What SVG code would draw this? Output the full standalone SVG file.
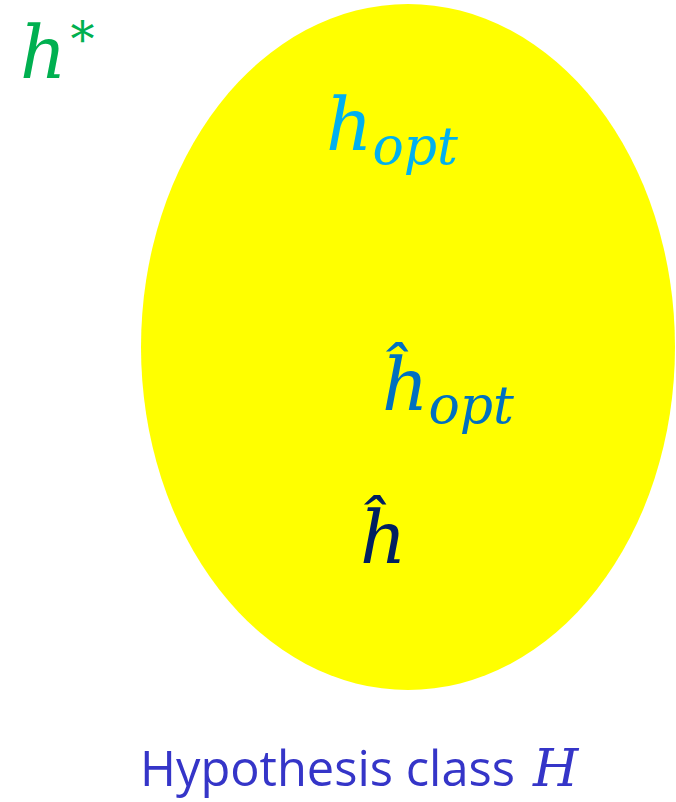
<svg xmlns="http://www.w3.org/2000/svg" width="676" height="802" viewBox="0 0 676 802">
<style>
.m{font-family:"DejaVu Serif","Liberation Serif",serif;font-style:italic}
.lbl{font-family:"Open Sans","Noto Sans",sans-serif}
</style>
<rect width="676" height="802" fill="#ffffff"/>
<g id="hypothesis-class">
<ellipse cx="408" cy="347" rx="267" ry="343" fill="#ffff00"/>
</g>
<g id="h-star">
<text class="m" x="20" y="78" font-size="72" fill="#00b050">h<tspan font-size="48" dy="-22" dx="4" font-style="normal">*</tspan></text>
</g>
<g id="h-opt">
<text class="m" x="326" y="150" font-size="72" fill="#00b0f0">h<tspan font-size="52" dy="14">opt</tspan></text>
</g>
<g id="h-hat-opt">
<text class="m" x="382" y="410" font-size="72" fill="#0070c0">ĥ<tspan font-size="52" dy="13">opt</tspan></text>
</g>
<g id="h-hat">
<text class="m" x="360" y="563" font-size="72" fill="#002060">ĥ</text>
</g>
<g id="label">
<text class="lbl" x="140" y="786" font-size="50" fill="#3535c8" textLength="375" lengthAdjust="spacingAndGlyphs">Hypothesis class</text>
<text class="m" x="533" y="786" font-size="52" fill="#3535c8">H</text>
</g>
</svg>
